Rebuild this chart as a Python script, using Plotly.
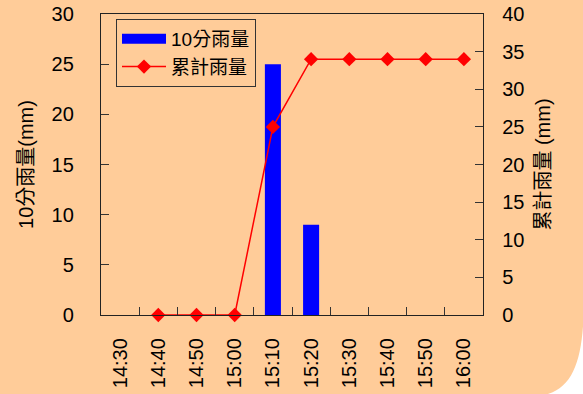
import plotly.graph_objects as go

times = ["14:30", "14:40", "14:50", "15:00", "15:10", "15:20", "15:30", "15:40", "15:50", "16:00"]
rain10 = [0, 0, 0, 0, 25, 9, 0, 0, 0, 0]
cum_times = ["14:40", "14:50", "15:00", "15:10", "15:20", "15:30", "15:40", "15:50", "16:00"]
cum_rain = [0, 0, 0, 25, 34, 34, 34, 34, 34]
left_ticks = [0, 5, 10, 15, 20, 25, 30]
right_ticks = [0, 5, 10, 15, 20, 25, 30, 35, 40]

FONT = "Liberation Sans, Arial, Noto Sans CJK TC, Noto Sans CJK JP, sans-serif"
PEACH = "#FFCC99"

fig = go.Figure()
fig.add_trace(go.Bar(x=times, y=rain10, name="10分雨量", marker=dict(color="#0000FF", line=dict(width=0)),
                     width=0.42, yaxis="y", showlegend=False))
# legend entry styled as a wide blue block
fig.add_trace(go.Scatter(x=[None], y=[None], mode="lines", name="10分雨量",
                         line=dict(color="#0000FF", width=12), yaxis="y"))
fig.add_trace(go.Scatter(x=cum_times, y=cum_rain, name="累計雨量", mode="lines+markers",
                         line=dict(color="#FF0000", width=1.5),
                         marker=dict(symbol="diamond", size=11, color="#FF0000"),
                         yaxis="y2", cliponaxis=False))

L, R, T, B = 101, 100, 14, 79
W, H = 583, 394
pw, ph = W - L - R, H - T - B
def px(x):
    return (x - L) / pw
def py(y):
    return (H - B - y) / ph

corner = (f"M {px(584)},{py(295)} C {px(584)},{py(355)} {px(576)},{py(392)} {px(538)},{py(396)} "
          f"L {px(590)},{py(400)} L {px(590)},{py(295)} Z")

fig.update_layout(
    width=W, height=H,
    margin=dict(l=L, r=R, t=T, b=B, pad=0, autoexpand=False),
    paper_bgcolor=PEACH, plot_bgcolor=PEACH,
    font=dict(family=FONT, size=20, color="#000000"),
    bargap=0.58,
    xaxis=dict(type="category", categoryorder="array", categoryarray=times,
               tickangle=-90, ticks="inside", ticklen=8, tickson="boundaries",
               tickcolor="#333333", showline=True, linecolor="#222222", linewidth=1.3,
               mirror=True, showgrid=False, tickfont=dict(size=20), automargin=False,
               ticklabelstandoff=14, range=[-0.5, 9.5]),
    yaxis=dict(range=[0, 30], tickvals=left_ticks, ticks="inside", ticklen=8,
               tickcolor="#333333", showline=True, linecolor="#222222", linewidth=1.3,
               showgrid=False, zeroline=False, ticklabelstandoff=22, automargin=False,
               title=dict(text="10分雨量(mm)", font=dict(size=20), standoff=12)),
    yaxis2=dict(range=[0, 40], tickvals=right_ticks, overlaying="y", side="right",
                ticks="inside", ticklen=8, tickcolor="#333333", showline=True,
                linecolor="#222222", linewidth=1.3, showgrid=False, zeroline=False,
                ticklabelstandoff=14, automargin=False,
                title=dict(text="累計雨量 (mm)", font=dict(size=20), standoff=12)),
    legend=dict(x=px(116), y=py(19), xanchor="left", yanchor="top",
                bgcolor=PEACH, bordercolor="#333333", borderwidth=1,
                font=dict(size=19), itemwidth=44, tracegroupgap=0,
                traceorder="normal"),
    shapes=[dict(type="path", xref="paper", yref="paper", path=corner,
                 fillcolor="white", line=dict(width=0), layer="below")],
)

fig.write_html("out.html")
